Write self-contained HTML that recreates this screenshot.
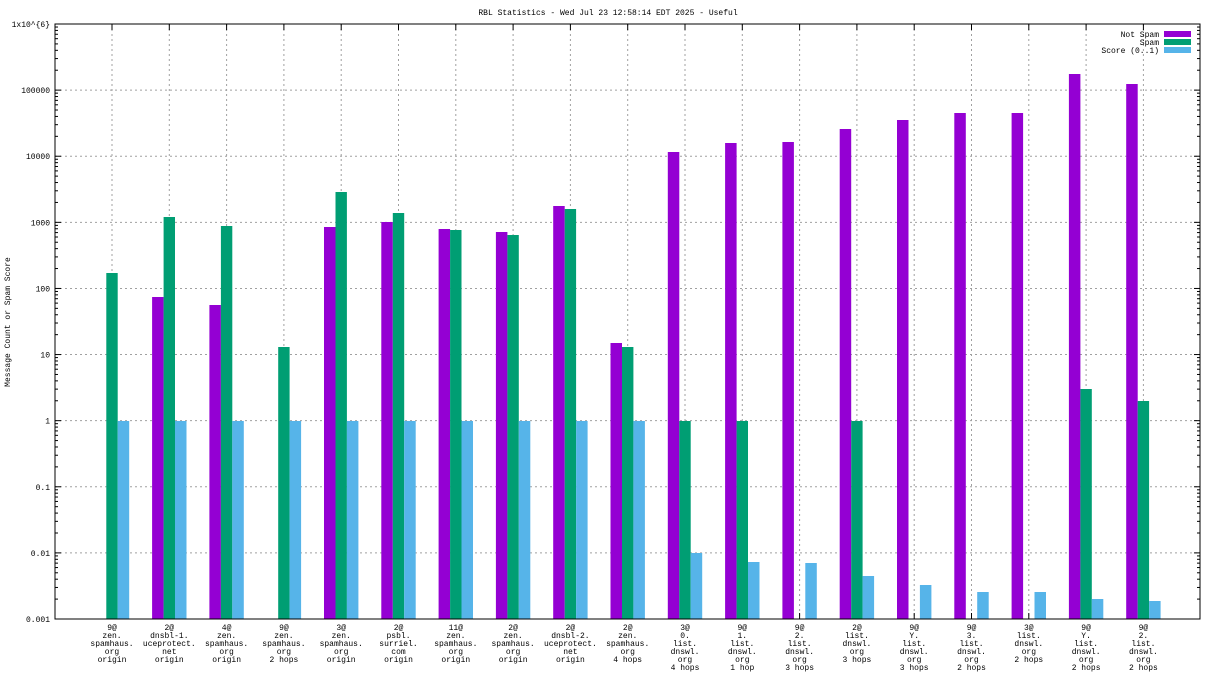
<!DOCTYPE html>
<html><head><meta charset="utf-8"><style>
body{margin:0;background:#fff;}
svg{display:block;font-family:"Liberation Mono",monospace;font-size:8px;}
</style></head><body>
<svg id="s" width="1216" height="684" xmlns="http://www.w3.org/2000/svg"></svg>
<script>
const s=document.getElementById('s');
let h='';
const L=55,R=1200,T=24,B=619,D=66.11;
const yv=v=>B-(Math.log10(v)+3)*D;
// title
h+=`<text x="608" y="15" text-anchor="middle">RBL Statistics - Wed Jul 23 12:58:14 EDT 2025 - Useful</text>`;
h+=`<text transform="translate(10,322) rotate(-90)" text-anchor="middle">Message Count or Spam Score</text>`;
// grid horizontal + labels
const labs=["0.001","0.01","0.1","1","10","100","1000","10000","100000","1x10^{6}"];
for(let i=0;i<10;i++){const y=B-i*D;
 if(i>0&&i<9)h+=`<line x1="${L}" x2="${R}" y1="${y}" y2="${y}" stroke="#a0a0a0" stroke-dasharray="2,3"/>`;
 h+=`<text x="50" y="${y+3}" text-anchor="end">${labs[i]}</text>`;
 h+=`<line x1="${L}" x2="${L+6}" y1="${y}" y2="${y}" stroke="#000"/><line x1="${R}" x2="${R-6}" y1="${y}" y2="${y}" stroke="#000"/>`;
 if(i<9)for(let k=2;k<10;k++){const yy=y-Math.log10(k)*D;h+=`<line x1="${L}" x2="${L+3}" y1="${yy}" y2="${yy}" stroke="#000"/><line x1="${R}" x2="${R-3}" y1="${yy}" y2="${yy}" stroke="#000"/>`;}
}
const cats=[
["9@","zen.","spamhaus.","org","origin"],
["2@","dnsbl-1.","uceprotect.","net","origin"],
["4@","zen.","spamhaus.","org","origin"],
["9@","zen.","spamhaus.","org","2 hops"],
["3@","zen.","spamhaus.","org","origin"],
["2@","psbl.","surriel.","com","origin"],
["11@","zen.","spamhaus.","org","origin"],
["2@","zen.","spamhaus.","org","origin"],
["2@","dnsbl-2.","uceprotect.","net","origin"],
["2@","zen.","spamhaus.","org","4 hops"],
["3@","0.","list.","dnswl.","org","4 hops"],
["9@","1.","list.","dnswl.","org","1 hop"],
["9@","2.","list.","dnswl.","org","3 hops"],
["2@","list.","dnswl.","org","3 hops"],
["9@","Y.","list.","dnswl.","org","3 hops"],
["9@","3.","list.","dnswl.","org","2 hops"],
["3@","list.","dnswl.","org","2 hops"],
["9@","Y.","list.","dnswl.","org","2 hops"],
["9@","2.","list.","dnswl.","org","2 hops"]];
const ns=[null,297,305,null,227,222,229,232,206,343,152,143,142,129,120,113,113,74,84];
const sp=[273,217,226,347,192,213,230,235,209,347,421,421,null,421,null,null,null,389,401];
const sc=[421,421,421,421,421,421,421,421,421,421,553,562,563,576,585,592,592,599,601];
const sx=57.3;
for(let i=0;i<19;i++){const c=112+i*sx;
 h+=`<line x1="${c}" x2="${c}" y1="${T}" y2="${B}" stroke="#a0a0a0" stroke-dasharray="2,3"/>`;
 h+=`<line x1="${c}" x2="${c}" y1="${T}" y2="${T+6}" stroke="#000"/><line x1="${c}" x2="${c}" y1="${B}" y2="${B-6}" stroke="#000"/>`;
 if(ns[i]!==null)h+=`<rect x="${c-17.2}" y="${ns[i]}" width="11.5" height="${B-ns[i]}" fill="#9400d3"/>`;
 if(sp[i]!==null)h+=`<rect x="${c-5.7}" y="${sp[i]}" width="11.4" height="${B-sp[i]}" fill="#009e73"/>`;
 h+=`<rect x="${c+5.7}" y="${sc[i]}" width="11.5" height="${B-sc[i]}" fill="#56b4e9"/>`;
 cats[i].forEach((t,j)=>{h+=`<text x="${c}" y="${630+j*8}" text-anchor="middle">${t}</text>`;});
}
h+=`<rect x="${L}" y="${T}" width="${R-L}" height="${B-T}" fill="none" stroke="#000"/>`;
// legend
const lg=[["Not Spam","#9400d3"],["Spam","#009e73"],["Score (0..1)","#56b4e9"]];
lg.forEach((l,i)=>{const y=34+i*8;h+=`<text x="1159" y="${y+3}" text-anchor="end">${l[0]}</text><rect x="1164" y="${y-3}" width="27" height="6" fill="${l[1]}"/>`;});
s.innerHTML=h;
</script>
</body></html>
